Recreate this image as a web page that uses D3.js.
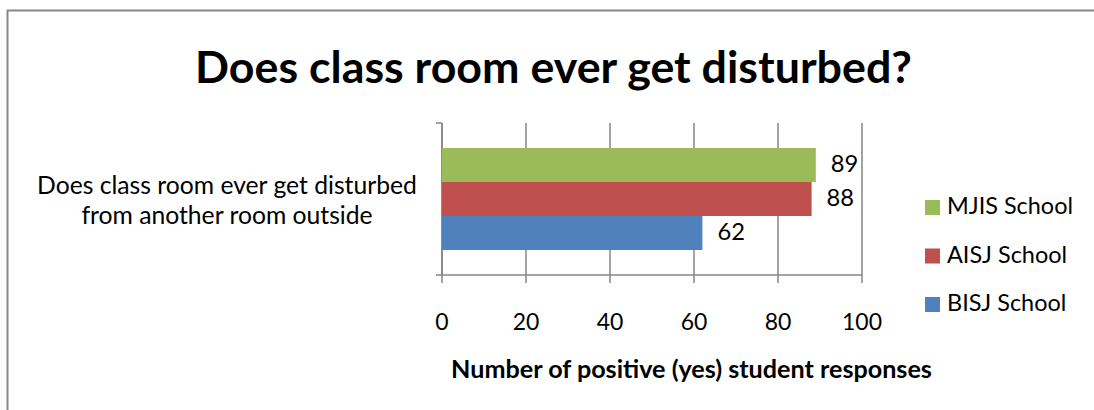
<!DOCTYPE html>
<html><head><meta charset="utf-8">
<script src="https://cdn.jsdelivr.net/npm/d3@7"></script>
<style>body{margin:0;background:#fff}svg{display:block}text{font-family:Lato,"Open Sans",sans-serif}</style>
</head><body><svg id="c" width="1094" height="410"></svg>
<script>
const title = "Does class room ever get disturbed?";
const categoryLines = ["Does class room ever get disturbed", "from another room outside"];
const seriesNames = ["MJIS School", "AISJ School", "BISJ School"];
const seriesValues = [89, 88, 62];
const seriesColors = ["#9BBB59", "#C0504D", "#4F81BD"];
const xTicks = [0, 20, 40, 60, 80, 100];
const xTitle = "Number of positive (yes) student responses";

const svg = d3.select("#c");
svg.append("rect").attr("x",7.5).attr("y",10.5).attr("width",1100).attr("height",420)
  .attr("fill","#fff").attr("stroke","#878787").attr("stroke-width",2);

function fitSize(sel, w){ const n=sel.node(); const fs=parseFloat(sel.attr("font-size")); const l=n.getComputedTextLength(); return fs*w/l; }

const t = svg.append("text").attr("x",553.5).attr("y",83).attr("text-anchor","middle")
  .attr("font-weight","bold").attr("font-size",40).text(title);
t.attr("font-size", fitSize(t,717));

const x = d3.scaleLinear().domain([0,100]).range([442,862]);
const yTop=123, yBot=275;
const y = d3.scaleBand().domain(seriesNames).range([148,250]);

const g = svg.append("g");
g.selectAll("line.grid").data(xTicks).join("line")
  .attr("x1",d=>x(d)).attr("x2",d=>x(d)).attr("y1",yTop).attr("y2",yBot+8)
  .attr("stroke","#868686").attr("stroke-width",1.5);
g.append("line").attr("x1",x(0)).attr("x2",x(0)).attr("y1",yTop).attr("y2",yBot).attr("stroke","#868686").attr("stroke-width",1.5);
g.append("line").attr("x1",x(0)-6).attr("x2",x(100)).attr("y1",yBot).attr("y2",yBot).attr("stroke","#868686").attr("stroke-width",1.5);
g.append("line").attr("x1",x(0)-6).attr("x2",x(0)).attr("y1",yTop).attr("y2",yTop).attr("stroke","#868686").attr("stroke-width",1.5);

svg.selectAll("rect.bar").data(seriesValues).join("rect")
  .attr("x",x(0)).attr("y",(d,i)=>y(seriesNames[i])).attr("width",d=>x(d)-x(0))
  .attr("height",y.bandwidth()).attr("fill",(d,i)=>seriesColors[i]);
const labs = svg.selectAll("text.lab").data(seriesValues).join("text")
  .attr("x",d=>x(d)+15).attr("y",(d,i)=>y(seriesNames[i])+y.bandwidth()/2+1)
  .attr("dominant-baseline","middle").attr("font-size",22).text(d=>d);
const labFs = fitSize(d3.select(labs.nodes()[0]),27.5);
labs.attr("font-size",labFs);

const ticks = svg.selectAll("text.tick").data(xTicks).join("text")
  .attr("x",d=>x(d)).attr("y",330).attr("text-anchor","middle").attr("font-size",19.5).text(d=>d);
const tickFs = fitSize(d3.select(ticks.nodes()[5]),40);
ticks.attr("font-size",tickFs);

const xt = svg.append("text").attr("x",691.5).attr("y",378).attr("text-anchor","middle")
  .attr("font-weight","bold").attr("font-size",19).text(xTitle);
xt.attr("font-size", fitSize(xt,481));

const cl = svg.append("g");
categoryLines.forEach((s,i)=>{
  cl.append("text").attr("x",227).attr("y",194+i*30).attr("text-anchor","middle").attr("font-size",21).text(s);
});
const clFs = fitSize(d3.select(cl.selectAll("text").nodes()[0]),380);
cl.selectAll("text").attr("font-size",clFs);

const lg = svg.append("g");
seriesNames.forEach((s,i)=>{
  const cy=[207.5,256,304.5][i];
  lg.append("rect").attr("x",925).attr("y",cy-7.5).attr("width",15).attr("height",15).attr("fill",seriesColors[i]);
  lg.append("text").attr("x",947).attr("y",cy+1).attr("dominant-baseline","middle").attr("font-size",21).text(s);
});
const lgFs = fitSize(d3.select(lg.selectAll("text").nodes()[0]),126);
lg.selectAll("text").attr("font-size",lgFs);
</script></body></html>
